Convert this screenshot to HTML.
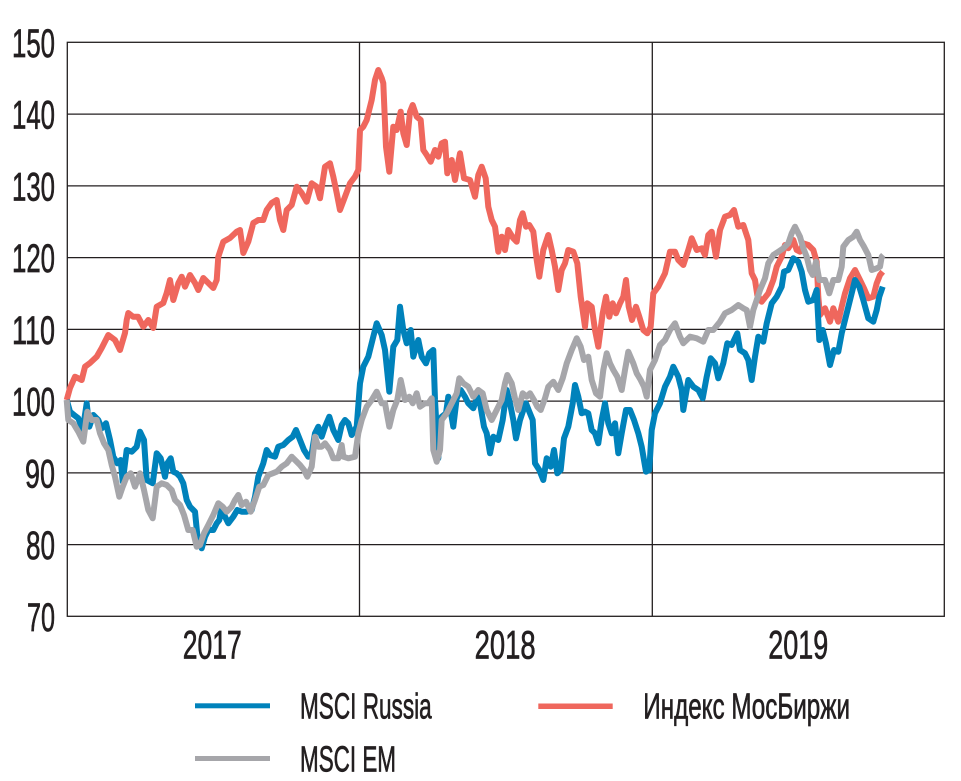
<!DOCTYPE html>
<html>
<head>
<meta charset="utf-8">
<style>
  html, body { margin:0; padding:0; background:#ffffff; }
  svg { display:block; }
  text { font-family: "Liberation Sans Narrow", "Liberation Sans", "DejaVu Sans", sans-serif; fill:#231f20; stroke:#231f20; stroke-width:0.7; }
</style>
</head>
<body>
<svg width="961" height="781" viewBox="0 0 961 781" xmlns="http://www.w3.org/2000/svg">
  <rect x="0" y="0" width="961" height="781" fill="#ffffff" stroke="none"/>
  <!-- grid -->
  <g stroke="#231f20" stroke-width="1.3" fill="none">
    <line x1="67.3" y1="114.1" x2="944.3" y2="114.1"/>
    <line x1="67.3" y1="185.9" x2="944.3" y2="185.9"/>
    <line x1="67.3" y1="257.6" x2="944.3" y2="257.6"/>
    <line x1="67.3" y1="329.4" x2="944.3" y2="329.4"/>
    <line x1="67.3" y1="401.1" x2="944.3" y2="401.1"/>
    <line x1="67.3" y1="472.9" x2="944.3" y2="472.9"/>
    <line x1="67.3" y1="544.6" x2="944.3" y2="544.6"/>
    <line x1="359.5" y1="42.3" x2="359.5" y2="616.3"/>
    <line x1="652.3" y1="42.3" x2="652.3" y2="616.3"/>
    <rect x="67.3" y="42.3" width="877" height="574"/>
  </g>

  <!-- series -->
  <g fill="none" stroke-width="6" stroke-linejoin="round" stroke-linecap="butt">
    <polyline stroke="#ef675d" points="66.7,400 70,388 75,376.7 81.7,380 85,366.7 90,363 96.7,356.7 101.7,348 108.3,335 115,340 120,350 125,333 126.7,320 128.3,313 133,316.7 138,316.7 143.3,326.7 148.3,320 153.3,328 156.7,306.7 163.3,303 166.7,293 170,280 173.3,300 178.3,283.3 181.7,276.7 185,286.7 190,275 195,283 198.3,290 203.3,278 208.3,283 213.3,288 216.7,280 218.3,256.7 223.3,241.7 230,238 236.7,231.7 240,230 243.3,253 248.3,241.7 253.3,223 258.3,220 263.3,220 266.7,210 271.7,203 276.7,200 280,220 283.3,230 286.7,210 291.7,205 296.7,186.7 301.7,193 306.7,201.7 311.7,183.3 316.7,186.7 320,198.3 325,166.7 330,163.3 333.3,176.7 336.7,193 340,210 345,196.7 350,183.3 355,176.7 358.3,170 360,130 363.3,126.7 366.7,120 371.7,100 375,80 378.3,70 381.7,78 383.3,83.3 386,146.7 389.3,171.7 393.3,126.7 396.7,130 400.7,111.7 403.3,133.3 406.7,145 410,111.7 412.7,105 416.7,116.7 420.7,120 423.3,150 426.7,155 430.7,161.7 435,150 438.3,156.7 441.7,143.3 445,141.7 447.3,173.3 451.7,160 455,180 460,153.3 464,178.3 470,180 475,196.7 478.3,175 481.7,166.7 485.7,178.3 488.3,206.7 491.7,220 495,226.7 498.3,251.7 501.7,236.7 505,250 508.3,230 513.3,238.3 516.7,241.7 520,220 522.7,213.3 526,226.7 529.3,225 533.3,231.7 536.7,260 539.3,276.7 543.3,250 548.3,235 551.7,250 555,266.7 558.3,290 561.7,270 565,263.3 568.3,250 573.3,251.7 577.3,263.3 580.7,296.7 585,326.7 587.3,303.3 591.7,306.7 595,330 598.3,346.7 602.7,313.3 606,296.7 609.3,316.7 612.7,303.3 616,313.3 620,303.3 623.3,296.7 626,280 628.7,306.7 632,320 636,306.7 639.3,316.7 643.3,330 647.3,333.3 650.7,326.7 653.3,293.3 658.3,286.7 665,273.3 670,251.7 675,251.7 678.3,260 683.3,265 688.3,250 691.7,238.3 696.7,250 701.7,248.3 705,255 708.3,235 711.7,231.7 716,256.7 720,230 725,216.7 730,215 734,210 738.3,226.7 743.3,225 748.3,240 751.7,273.3 755,280 757.3,295 761.7,301.7 768.3,293.3 773.3,280 776.7,266.7 781.7,256.7 785,245 788.3,248.3 793.3,240 796.7,250 800,251.7 803.3,243.3 808.3,245 813.3,250 816.7,261.7 818.3,296.7 820,315 825,308.3 830,321.7 833.3,308.3 838.3,321.7 841.7,306.7 845,293.3 850,278.3 855,270 860,280 864,288.3 868.3,298.3 873.3,296.7 876.7,283.3 880,275 882.7,271.7"/>
    <polyline stroke="#0082bb" points="66.7,400 70,411.7 74,415 78.3,418.3 82.7,430 86.7,403.3 89.3,426.7 93.3,415 98.3,420 101.7,428.3 106,423.3 110,440 113.3,456.7 117.3,463.3 120.7,460 122.7,481.7 126.7,450 131.7,451.7 136.7,446.7 140,431.7 144,440 146.7,480 152.7,483.3 156.7,453.3 160.7,458.3 165,476.7 167.3,463.3 170.7,458.3 173.3,471.7 176.7,473.3 180,476.7 183.3,483.3 186.7,500 190,506.7 195,511.7 197.3,535 201.7,548.3 205,536.7 208.3,530 213.3,530 216.7,523.3 219.3,520 221.7,506.7 225,516.7 228.3,523.3 233.3,516.7 237.3,510 241.7,511.7 246.7,511.7 251.7,510 255,496.7 258.3,476.7 263.3,463.3 266.7,450 270,455 275,456.7 278.3,446.7 283.3,445 288.3,440 292.7,436.7 296,430 300,440 304,450 308.3,456.7 311.7,453.3 315,433.3 318.3,426.7 321.7,436.7 325,426.7 329.3,416.7 333.3,430 338.3,440 341.7,425 345,420 348.3,423.3 351.7,435 356.7,426.7 360,383.3 363.3,366.7 368.3,356.7 373.3,336.7 376.7,323.3 381.7,335 385,350 389.3,391.7 393.3,346.7 397.3,340 400,306.7 403.3,330 406.7,343.3 410.7,330 413.3,356.7 418.3,340 421.7,356.7 426,363.3 429.3,353.3 433.3,350 435,400 438.3,458.3 441.7,416.7 446,413.3 448.3,396.7 453.3,426.7 456.7,398.3 460.7,390 465,396.7 468.3,403.3 473.3,408.3 477.3,396.7 480,403.3 484,426.7 486.7,433.3 490,453.3 493.3,436.7 498.3,440 502.7,420 506.7,390 510,403.3 513.3,420 516,438.3 520,420 523.3,410 526,403.3 529.3,411.7 532.7,420 535,463.3 539.3,470 543.3,480 546.7,458.3 550.7,466.7 554,450 557.3,473.3 560.7,470 564,438.3 568.3,426.7 572.7,403.3 575,385 578.3,396.7 581.7,413.3 585,411.7 588.3,413.3 591.7,430 595,433.3 598.3,443.3 601.7,420 605,403.3 608.3,423.3 611.7,433.3 615,423.3 618.3,453.3 621.7,433.3 626,410 630,410 634,420 638.3,433.3 641.7,446.7 646,471.7 649.3,470 651.7,430 655,413.3 660,403.3 665,386.7 670,376.7 673.3,366.7 678.3,376.7 681.7,390 683.3,410 688.3,380 693.3,386.7 698.3,390 702.7,398.3 706.7,376.7 710.7,358.3 715,363.3 718.3,378.3 723.3,363.3 727.3,343.3 731.7,345 737.3,333.3 740,350 745,353.3 748.3,360 751.7,380 755,356.7 758.3,336.7 763.3,341.7 766.7,323.3 771.7,303.3 776.7,296.7 781.7,286.7 784,271.7 788.3,270 793.3,258.3 798.3,261.7 801.7,271.7 805,290 808.3,301.7 813.3,300 816.7,290 819.3,340 822.7,330 826,343.3 830,365 834,350 838.3,351.7 841.7,333.3 845,320 850,300 855,280 859.3,286.7 863.3,300 868.3,318.3 873.3,321.7 876.7,310 879.3,296.7 882.7,286.7"/>
    <polyline stroke="#a6a6aa" points="66.7,400 68.3,420 73.3,423.3 78.3,431.7 83.3,441.7 87.3,411.7 91.7,420 96.7,420 100,433.3 104,443.3 108.3,450 111.7,465 115,476.7 119.3,496.7 122.7,486.7 126.7,476.7 130.7,473.3 135,486.7 140,473.3 144,490 148.3,510 152.7,518.3 156.7,486.7 161.7,483.3 166.7,485 171.7,490 175,500 180,505 184,515 188.3,530 192.7,530 196.7,546.7 200,545 204,533.3 208.3,525 213.3,515 218.3,503.3 222.7,506.7 226.7,511.7 231.7,506.7 235,500 238.3,495 241.7,505 246,501.7 250.7,511.7 255,500 259.3,486.7 263.3,485 268.3,475 272.7,473.3 276.7,471.7 281.7,466.7 286.7,463.3 291.7,456.7 295,460 300,465 304,470 307.3,476.7 311.7,466.7 315,436.7 318.3,446.7 321.7,446.7 325,443.3 330,450 333.3,458.3 338.3,458.3 341.7,445 343.3,456.7 348.3,458.3 355,456.7 358.3,433.3 361.7,420 366.7,406.7 371.7,400 376.7,391.7 381.7,403.3 385,403.3 389.3,426.7 393.3,410 397.3,400 400.7,380 405,400 409.3,396.7 412.7,403.3 416.7,393.3 420,406.7 425,403.3 428.3,403.3 431.7,398.3 433.3,450 436.7,461.7 440,450 441.7,420 446.7,413.3 451.7,403.3 456.7,393.3 459.3,378.3 463.3,383.3 468.3,386.7 473.3,396.7 478.3,390 482.7,393.3 486.7,410 491.7,420 496.7,410 501.7,400 505,383.3 507.3,375 511.7,383.3 515,398.3 518.3,410 522.7,393.3 526.7,396.7 530,393.3 534,400 537.3,406.7 540.7,410 545,398.3 548.3,386.7 553.3,381.7 558.3,390 562.7,378.3 566.7,363.3 571.7,350 576.7,338.3 580.7,346.7 584,360 588.3,356.7 591.7,380 596,393.3 600,396.7 603.3,370 606.7,353.3 610,363.3 613.3,370 617.3,376.7 621.7,390 625,370 628.3,351.7 633.3,363.3 636.7,373.3 640.7,380 644,386.7 646.7,396.7 650,370 655,360 660,345 665,340 670,330 675,323.3 680,336.7 683.3,343.3 690,336.7 696.7,338.3 703.3,341.7 708.3,330 713.3,330 720,321.7 725,313.3 731.7,310 738.3,305 743.3,308.3 746.7,310 750,326.7 753.3,310 756.7,300 760,290 765,278.3 768.3,263.3 773.3,255 778.3,251.7 783.3,248.3 788.3,243.3 791.7,233.3 795,226.7 800,236.7 803.3,248.3 806.7,256.7 810,270 812.7,275 816,261.7 819.3,280 825,280 829.3,293.3 833.3,280 838.3,280 841.7,266.7 843.3,246.7 848.3,240 853.3,236.7 856.7,231.7 860,240 864,246.7 868.3,255 871.7,270 876.7,268.3 880,266.7 881.7,256.7 883.3,255"/>
  </g>

  <!-- y axis labels -->
  <g font-size="40" text-anchor="end">
    <text x="55" y="57" textLength="43" lengthAdjust="spacingAndGlyphs">150</text>
    <text x="55" y="128.6" textLength="43" lengthAdjust="spacingAndGlyphs">140</text>
    <text x="55" y="200.4" textLength="43" lengthAdjust="spacingAndGlyphs">130</text>
    <text x="55" y="272.1" textLength="43" lengthAdjust="spacingAndGlyphs">120</text>
    <text x="55" y="343.9" textLength="43" lengthAdjust="spacingAndGlyphs">110</text>
    <text x="55" y="415.6" textLength="43" lengthAdjust="spacingAndGlyphs">100</text>
    <text x="55" y="487.4" textLength="30" lengthAdjust="spacingAndGlyphs">90</text>
    <text x="55" y="559.1" textLength="29" lengthAdjust="spacingAndGlyphs">80</text>
    <text x="55" y="630.8" textLength="28" lengthAdjust="spacingAndGlyphs">70</text>
  </g>

  <!-- x axis labels -->
  <g font-size="40">
    <text x="182.7" y="658.3" textLength="59" lengthAdjust="spacingAndGlyphs">2017</text>
    <text x="474.6" y="658.3" textLength="61" lengthAdjust="spacingAndGlyphs">2018</text>
    <text x="768.3" y="658.3" textLength="60" lengthAdjust="spacingAndGlyphs">2019</text>
  </g>

  <!-- legend -->
  <rect x="195" y="703.3" width="75" height="5" fill="#0082bb" stroke="none"/>
  <rect x="195" y="756" width="75" height="5" fill="#a6a6aa" stroke="none"/>
  <rect x="538.3" y="703.5" width="74.4" height="5.5" fill="#ef675d" stroke="none"/>
  <g font-size="36.5">
    <text x="300" y="718.3" textLength="131.7" lengthAdjust="spacingAndGlyphs">MSCI Russia</text>
    <text x="300" y="771.7" textLength="96" lengthAdjust="spacingAndGlyphs">MSCI EM</text>
    <text x="643.3" y="718.3" textLength="206.7" lengthAdjust="spacingAndGlyphs">Индекс МосБиржи</text>
  </g>
</svg>
</body>
</html>
